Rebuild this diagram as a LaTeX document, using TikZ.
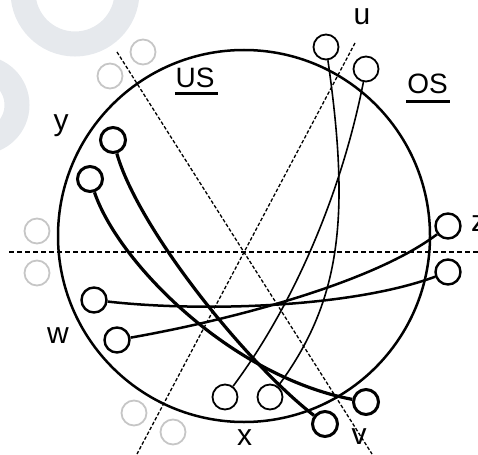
\documentclass[tikz,border=0pt]{standalone}
\usepackage{fontspec}
\setmainfont{Liberation Sans}
\definecolor{wmgray}{HTML}{E6E9ED}
\definecolor{ghostgray}{HTML}{C6C6C6}
\begin{document}
\begin{tikzpicture}[x=1pt,y=-1pt,
  wm/.style={draw=wmgray,line width=25pt},
  hdash/.style={line width=1.8pt, dash pattern=on 5pt off 3pt},
  ddash/.style={line width=1.3pt, dash pattern=on 3.5pt off 2pt},
  pt/.style={circle,draw,minimum size=25pt,inner sep=0pt},
  ptA/.style={pt,line width=3pt},
  ptB/.style={pt,line width=2.4pt},
  ptC/.style={pt,line width=1.8pt},
  ghost/.style={circle,draw=ghostgray,line width=1.8pt,minimum size=25pt,inner sep=0pt},
  lnA/.style={line width=3.2pt},
  lnB/.style={line width=2.5pt},
  lnC/.style={line width=1.6pt},
  lab/.style={font=\fontsize{30}{30}\selectfont,inner sep=0pt,anchor=base},
  hlab/.style={font=\fontsize{28}{28}\selectfont,inner sep=0pt,anchor=base},
  uline/.style={line width=3pt}
]
\useasboundingbox (0,0) rectangle (478,454);
% watermark
\draw[wm] (75,-8) circle (52pt);
\draw[wm] (-20,105) circle (37pt);
% dashed guide lines
\coordinate (h1) at (9,252);
\coordinate (h2) at (478,252);
\coordinate (d1a) at (117,52);
\coordinate (d1b) at (372,454);
\coordinate (d2a) at (355,43);
\coordinate (d2b) at (137,454);
\draw[hdash] (h1) -- (h2);
\draw[ddash] (d1a) -- (d1b);
\draw[ddash] (d2a) -- (d2b);
% big circle
\node[circle,draw,line width=2.5pt,minimum size=372pt,inner sep=0pt] (big) at (244,236) {};
% ghost circles
\node[ghost] (g1) at (143,52) {};
\node[ghost] (g2) at (110,76) {};
\node[ghost] (g3) at (37,231) {};
\node[ghost] (g4) at (37,273) {};
\node[ghost] (g5) at (134,413) {};
\node[ghost] (g6) at (173,432) {};
% points
\node[ptA] (y1) at (113,140) {};
\node[ptA] (y2) at (90,179) {};
\node[ptA] (v1) at (325,424) {};
\node[ptA] (v2) at (366,402) {};
\node[ptB] (w1) at (94,300) {};
\node[ptB] (w2) at (117,340) {};
\node[ptB] (z1) at (448,226) {};
\node[ptB] (z2) at (448,272) {};
\node[ptC] (u1) at (326,47) {};
\node[ptC] (u2) at (366,69) {};
\node[ptC] (x1) at (225,397) {};
\node[ptC] (x2) at (270,397) {};
% connectors
\draw[lnA] (y1) .. controls (138,228) and (245,362) .. (v1);
\draw[lnA] (y2) .. controls (118,262) and (230,376) .. (v2);
\draw[lnB] (w1) .. controls (200,312) and (350,308) .. (z2);
\draw[lnB] (w2) .. controls (220,322) and (370,285) .. (z1);
\draw[lnC] (u1) .. controls (350,215) and (342,300) .. (x2);
\draw[lnC] (u2) .. controls (340,200) and (290,310) .. (x1);
% labels
\node[hlab] (US) at (195,88) {US};
\node[hlab] (OS) at (427.5,94) {OS};
\draw[uline] ([xshift=-0.5pt,yshift=-6pt]US.base west) -- ([xshift=3pt,yshift=-6pt]US.base east);
\draw[uline] ([xshift=-1pt,yshift=-8pt]OS.base west) -- ([xshift=2pt,yshift=-8pt]OS.base east);
\node[lab] (lu) at (362,25) {u};
\node[lab] (ly) at (61,131) {y};
\node[lab] (lw) at (58,343) {w};
\node[lab,anchor=base west] (lz) at (471,231) {z};
\node[lab] (lx) at (244.5,445) {x};
\node[lab] (lv) at (359,444) {v};
\end{tikzpicture}
\end{document}
